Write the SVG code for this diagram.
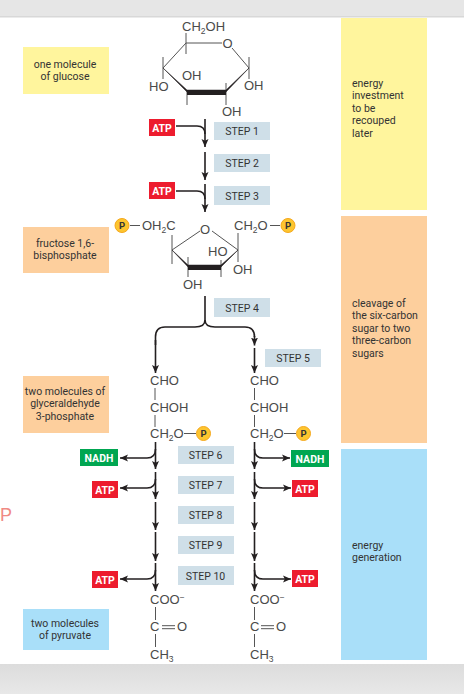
<svg xmlns="http://www.w3.org/2000/svg" width="464" height="694" viewBox="0 0 464 694">
<defs>
<marker id="ah" markerUnits="userSpaceOnUse" markerWidth="9" markerHeight="10" refX="8" refY="4" orient="auto"><path d="M0 0.500L8 4L0 7.500L1.800 4Z" fill="#231f20"/></marker>
<linearGradient id="foot" x1="0" y1="0" x2="0" y2="1"><stop offset="0" stop-color="#dcdcdc"/><stop offset="1" stop-color="#e8e8e8"/></linearGradient>
</defs>
<style>
text{font-family:Roboto,"Noto Sans",sans-serif;font-size:10.5px;fill:#333;text-anchor:middle}
.c{font-family:"Liberation Sans",Arial,sans-serif;font-size:13px;fill:#4a4a4a;text-anchor:start}
.sub{font-size:8.5px}
.l{text-anchor:start;font-size:10.5px}
.w{fill:#fff;font-weight:700;font-size:10.5px}
.st{fill:#cfdfe8}
.y{fill:#fff59d}.o{fill:#fdcf9d}.b{fill:#a9dff9}
.r{fill:#ed1c2e}.g{fill:#00a651}
.ln{fill:none;stroke:#231f20;stroke-width:1.6}
.a{fill:none;stroke:#231f20;stroke-width:1.6;marker-end:url(#ah)}
.bond{fill:none;stroke:#555;stroke-width:1}
.wedge{fill:#231f20;stroke:#231f20;stroke-width:.5}
.pc{fill:#fdc52f;stroke:#f5a81c;stroke-width:1}
.pt{font-size:9.500px;font-weight:700;fill:#333}
.stray{font-family:"Liberation Sans",Arial,sans-serif;font-size:18px;fill:#f08a84;text-anchor:start}
</style>
<rect width="464" height="694" fill="#fff"/>
<rect width="464" height="17" fill="#e6e6e6"/>
<rect y="16" width="464" height="1.500" fill="#d8d8d8"/>
<rect y="664" width="464" height="30" fill="url(#foot)"/>
<text class="stray" x="0" y="521">P</text>

<g id="band-investment"><rect class="y" x="341" y="18" width="86" height="192"/><text class="l" x="352" y="87">energy</text><text class="l" x="352" y="99.400">investment</text><text class="l" x="352" y="111.800">to be</text><text class="l" x="352" y="124.200">recouped</text><text class="l" x="352" y="136.600">later</text></g>
<g id="band-cleavage"><rect class="o" x="341" y="216" width="86" height="227"/><text class="l" x="352" y="307">cleavage of</text><text class="l" x="352" y="319.400">the six-carbon</text><text class="l" x="352" y="331.800">sugar to two</text><text class="l" x="352" y="344.200">three-carbon</text><text class="l" x="352" y="356.600">sugars</text></g>
<g id="band-generation"><rect class="b" x="341" y="449" width="86" height="211"/><text class="l" x="352" y="549">energy</text><text class="l" x="352" y="561.400">generation</text></g>

<g id="label-glucose"><rect class="y" x="23" y="47" width="86" height="47"/><text x="65" y="68">one molecule</text><text x="65" y="80.400">of glucose</text></g>
<g id="label-fructose"><rect class="o" x="23" y="227" width="86" height="46"/><text x="65" y="246.700">fructose 1,6-</text><text x="65" y="259.100">bisphosphate</text></g>
<g id="label-g3p"><rect class="o" x="23" y="376" width="86" height="57"/><text x="65" y="395">two molecules of</text><text x="65" y="407.400">glyceraldehyde</text><text x="65" y="419.800">3-phosphate</text></g>
<g id="label-pyruvate"><rect class="b" x="23" y="609" width="86" height="41"/><text x="65" y="627">two molecules</text><text x="65" y="639.400">of pyruvate</text></g>

<g id="step-1"><rect class="st" x="214" y="122" width="56" height="18"/><text x="242" y="135">STEP 1</text></g>
<g id="step-2"><rect class="st" x="214" y="154" width="56" height="18"/><text x="242" y="167">STEP 2</text></g>
<g id="step-3"><rect class="st" x="214" y="186" width="56" height="19"/><text x="242" y="200">STEP 3</text></g>
<g id="step-4"><rect class="st" x="214" y="298" width="56" height="19"/><text x="242" y="312">STEP 4</text></g>
<g id="step-5"><rect class="st" x="265" y="349" width="56" height="18"/><text x="293" y="362">STEP 5</text></g>
<g id="step-6"><rect class="st" x="178" y="446" width="56" height="18"/><text x="205.500" y="459">STEP 6</text></g>
<g id="step-7"><rect class="st" x="178" y="476" width="56" height="18"/><text x="205.500" y="489">STEP 7</text></g>
<g id="step-8"><rect class="st" x="178" y="506" width="56" height="18"/><text x="205.500" y="519">STEP 8</text></g>
<g id="step-9"><rect class="st" x="178" y="536" width="56" height="18"/><text x="205.500" y="549">STEP 9</text></g>
<g id="step-10"><rect class="st" x="178" y="566" width="56" height="19"/><text x="205.500" y="580">STEP 10</text></g>

<g id="atp-1"><rect class="r" x="149" y="119" width="26" height="17"/><text class="w" x="162" y="132">ATP</text></g>
<g id="atp-2"><rect class="r" x="149" y="182" width="26" height="17"/><text class="w" x="162" y="195">ATP</text></g>
<g id="nadh-l"><rect class="g" x="80" y="449" width="38" height="17"/><text class="w" x="99" y="462">NADH</text></g>
<g id="nadh-r"><rect class="g" x="291" y="450" width="38" height="17"/><text class="w" x="310" y="463">NADH</text></g>
<g id="atp-3"><rect class="r" x="92" y="481" width="26" height="17"/><text class="w" x="105" y="494">ATP</text></g>
<g id="atp-4"><rect class="r" x="292" y="480" width="26" height="17"/><text class="w" x="305" y="493">ATP</text></g>
<g id="atp-5"><rect class="r" x="92" y="571" width="26" height="17"/><text class="w" x="105" y="584">ATP</text></g>
<g id="atp-6"><rect class="r" x="292" y="570" width="26" height="17"/><text class="w" x="305" y="583">ATP</text></g>

<g id="glucose">
<text class="c" x="182" y="30.500">CH<tspan class="sub" dy="3">2</tspan><tspan dy="-3">OH</tspan></text>
<text class="c" x="222.500" y="48">O</text>
<path class="bond" d="M186 43H222M232 48L249 68M186 43L163 68M186 33V54M163 57V79M249 57V79M187 90V105M226 83V105"/>
<path class="wedge" d="M163 68L187 92H226L249 68L226 90H187Z"/>
<path d="M187 93H226" stroke="#231f20" stroke-width="4"/>
<text class="c" x="182" y="80">OH</text><text class="c" x="149" y="91">HO</text><text class="c" x="244" y="90">OH</text><text class="c" x="222" y="116">OH</text>
</g>
<g id="fructose">
<circle class="pc" cx="122" cy="225.500" r="7"/><text class="pt" x="122" y="229">P</text>
<text class="c" x="142" y="230">OH<tspan class="sub" dy="3">2</tspan><tspan dy="-3">C</tspan></text>
<text class="c" x="200" y="234">O</text>
<text class="c" x="234" y="230">CH<tspan class="sub" dy="3">2</tspan><tspan dy="-3">O</tspan></text>
<circle class="pc" cx="288" cy="225.500" r="7"/><text class="pt" x="288" y="229">P</text>
<path class="bond" d="M130 225.500H140M270 225.500H280M172 250L200 231M212 231L238 250M172 235V264M238 233V262M188 257V277M221 260V277"/>
<path class="wedge" d="M172 250L188 267H221L238 250L221 265H188Z"/>
<path d="M188 268H221" stroke="#231f20" stroke-width="4"/>
<text class="c" x="208" y="255.700">HO</text><text class="c" x="233" y="274">OH</text><text class="c" x="183" y="288.500">OH</text>
</g>
<g id="g3p-left">
<text class="c" x="150" y="385">CHO</text><text class="c" x="150" y="412">CHOH</text><text class="c" x="150" y="438">CH<tspan class="sub" dy="3">2</tspan><tspan dy="-3">O</tspan></text>
<path class="bond" d="M155 388V400M155 415V427M184 433.500H196"/>
<circle class="pc" cx="203.500" cy="433.500" r="7"/><text class="pt" x="203.500" y="437">P</text>
</g>
<g id="g3p-right">
<text class="c" x="250" y="385">CHO</text><text class="c" x="250" y="412">CHOH</text><text class="c" x="250" y="438">CH<tspan class="sub" dy="3">2</tspan><tspan dy="-3">O</tspan></text>
<path class="bond" d="M254.500 388V400M254.500 415V427M284 433.500H296"/>
<circle class="pc" cx="303.500" cy="433.500" r="7"/><text class="pt" x="303.500" y="437">P</text>
</g>
<g id="pyruvate-left">
<text class="c" x="150" y="604">COO<tspan class="sub" dy="-4">−</tspan></text><text class="c" x="150" y="631">C</text><text class="c" x="177" y="631">O</text><text class="c" x="150" y="659">CH<tspan class="sub" dy="3">3</tspan></text>
<path class="bond" d="M155.500 607V620M155.500 634V647M162 625.700H175M162 628.700H175"/>
</g>
<g id="pyruvate-right">
<text class="c" x="250" y="604">COO<tspan class="sub" dy="-4">−</tspan></text><text class="c" x="250" y="631">C</text><text class="c" x="276" y="631">O</text><text class="c" x="250" y="659">CH<tspan class="sub" dy="3">3</tspan></text>
<path class="bond" d="M254.500 607V620M254.500 634V647M261 625.700H274M261 628.700H274"/>
</g>

<g id="connectors">
<path class="a" d="M205 119V147"/><path class="a" d="M205 152V180"/><path class="a" d="M205 184V212"/>
<path class="ln" d="M176 126H197Q205 126 205 134"/><path class="ln" d="M176 191H197Q205 191 205 199"/>
<path class="ln" d="M205 296V320Q205 327 195 327H165Q155.500 327 155.500 337V345"/>
<path class="a" d="M155.500 340V373"/>
<path class="ln" d="M205 320Q205 327 215 327H245Q254.500 327 254.500 337"/><path class="a" d="M254.500 336V345.500"/>
<path class="a" d="M254.500 348V373"/>
<path class="a" d="M155.500 442V469"/><path class="a" d="M155.500 472V499"/><path class="a" d="M155.500 502V530"/><path class="a" d="M155.500 532V561"/><path class="a" d="M155.500 563V591"/>
<path class="a" d="M254.500 442V469"/><path class="a" d="M254.500 472V499"/><path class="a" d="M254.500 502V530"/><path class="a" d="M254.500 532V561"/><path class="a" d="M254.500 563V591"/>
<path class="a" d="M155.500 449Q155.500 458 147 458H120"/><path class="a" d="M155.500 479Q155.500 488 147 488H120"/><path class="a" d="M155.500 570Q155.500 579 147 579H120"/>
<path class="a" d="M254.500 449Q254.500 458 263 458H290"/><path class="a" d="M254.500 479Q254.500 488 263 488H291"/><path class="a" d="M254.500 570Q254.500 579 263 579H291"/>
</g>
</svg>
